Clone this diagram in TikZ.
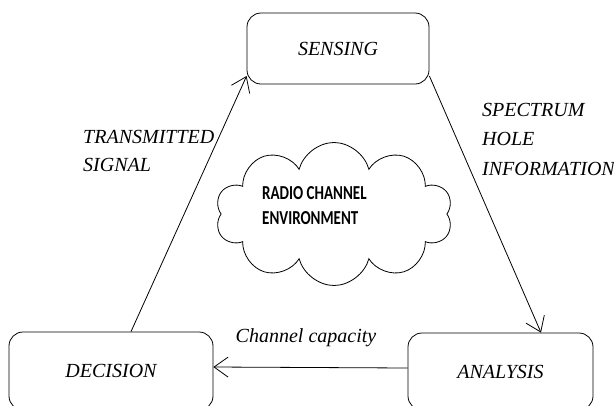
\documentclass[tikz,border=0pt]{standalone}
\usepackage{fontspec}
\setmainfont{Liberation Serif}
\newfontfamily\cloudfont{Carlito}
\usetikzlibrary{shapes.symbols,arrows.meta}
\begin{document}
\begin{tikzpicture}[x=1pt,y=-1pt,
  stagebox/.style={draw,line width=0.8pt,rounded corners=14pt,inner sep=0pt,
    font=\fontsize{20}{24}\selectfont\itshape},
  lbl/.style={inner sep=0pt,align=left,anchor=north west},
  flow/.style={draw,line width=0.8pt,-{Straight Barb[length=14pt,width=20pt,line width=0.8pt]}}
]
\useasboundingbox (0,0) rectangle (614,405);
\clip (0,0) rectangle (614,405);
\node[stagebox,minimum width=182pt,minimum height=71pt] (sen) at (338,48.5) {SENSING};
\node[stagebox,minimum width=204pt,minimum height=78pt] (dec) at (111,371) {DECISION};
\node[stagebox,minimum width=185pt,minimum height=77pt] (ana) at (500.5,371.5) {ANALYSIS};
\node[cloud,draw,line width=0.8pt,cloud puffs=10,aspect=1.6,minimum width=237pt,minimum height=143pt,inner sep=0pt] (env) at (334,214) {};
\node[lbl,font=\cloudfont\bfseries\fontsize{15}{25}\selectfont] (envtxt) at (262,186) {\scalebox{1}[1.32]{RADIO CHANNEL}\\\scalebox{1}[1.32]{ENVIRONMENT}};
\node[lbl,font=\fontsize{20}{28}\selectfont\itshape] (trans) at (83,130) {TRANSMITTED\\SIGNAL};
\node[lbl,font=\fontsize{20}{29.5}\selectfont\itshape] (spec) at (482,103) {SPECTRUM\\HOLE\\INFORMATION};
\node[inner sep=0pt,anchor=base,font=\fontsize{20}{24}\selectfont\itshape] (cap) at (306,342) {Channel capacity};
\draw[flow] ([xshift=20pt]dec.north) -- ([yshift=-27.5pt]sen.west);
\draw[flow] ([yshift=-27.5pt]sen.east) -- ([xshift=40.5pt]ana.north);
\draw[flow] ([yshift=3.5pt]ana.west) -- ([yshift=4pt]dec.east);
\end{tikzpicture}
\end{document}
